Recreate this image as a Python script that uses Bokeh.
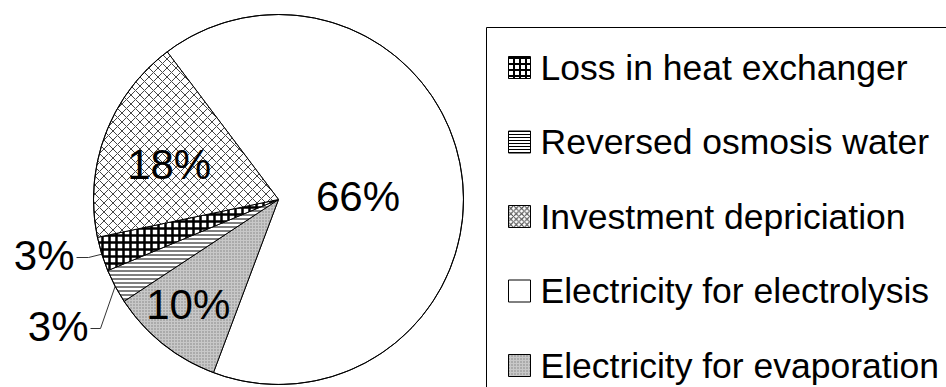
import math
from bokeh.plotting import figure
from bokeh.models import Range1d
from bokeh.core.properties import value
from bokeh.embed import file_html
from bokeh.resources import INLINE

# ---- data (pie order, clockwise) ----
categories = ["Electricity for electrolysis", "Electricity for evaporation",
              "Reversed osmosis water", "Loss in heat exchanger", "Investment depriciation"]
shares = [66, 10, 3, 3, 18]
labels = ["66%", "10%", "3%", "3%", "18%"]
legend_order = ["Loss in heat exchanger", "Reversed osmosis water", "Investment depriciation",
                "Electricity for electrolysis", "Electricity for evaporation"]

# ---- layout / style ----
W, H = 946, 387
CX, CY, R = 278, H - 199, 185
START_DEG = -37.0  # clockwise from 12 o'clock where first slice starts
FONT = "Liberation Sans"

styles = {
    "Electricity for electrolysis": dict(fill_color="white"),
    "Electricity for evaporation": dict(fill_color="#c8c8c8", hatch_pattern="dot", hatch_scale=3,
                                        hatch_color="#808080", hatch_weight=1),
    "Reversed osmosis water": dict(fill_color="white", hatch_pattern="horizontal_line", hatch_scale=4,
                                   hatch_color="black", hatch_weight=1),
    "Loss in heat exchanger": dict(fill_color="white", hatch_pattern="cross", hatch_scale=7,
                                   hatch_color="black", hatch_weight=2.5),
    "Investment depriciation": dict(fill_color="white", hatch_pattern="diagonal_cross", hatch_scale=9,
                                    hatch_color="#444444", hatch_weight=1),
}
# label placement: fraction of radius and angle offset from slice mid-angle (None -> outside)
label_frac = [0.43, 0.75, None, None, 0.62]
label_dang = [6, 2, 0, 0, -3]
leader_elbow = {2: (100, 328), 3: (88, 257)}
leader_end = {2: (90, 328), 3: (76, 257)}

p = figure(width=W, height=H, output_backend="svg", toolbar_location=None,
           x_range=Range1d(0, W), y_range=Range1d(0, H), min_border=0)
p.axis.visible = False
p.grid.visible = False
p.outline_line_color = None
p.background_fill_color = "white"

total = float(sum(shares))
theta = START_DEG
for i, (cat, s) in enumerate(zip(categories, shares)):
    span = 360.0 * s / total
    t1, t2 = theta, theta + span
    kw = dict(styles[cat])
    p.wedge(x=[CX], y=[CY], radius=R,
            start_angle=[math.radians(90 - t2)], end_angle=[math.radians(90 - t1)],
            line_color="black", line_width=1, **kw)
    mid = math.radians((t1 + t2) / 2)
    if label_frac[i] is not None:
        f = label_frac[i]
        a = mid + math.radians(label_dang[i])
        lx = CX + f * R * math.sin(a)
        ly = CY + f * R * math.cos(a)
        p.text(x=[lx], y=[ly], text=[labels[i]], text_align="center", text_baseline="middle",
               text_font=value(FONT), text_font_size="42px", text_color="black")
    else:
        ex = CX + R * math.sin(mid)
        ey = CY + R * math.cos(mid)
        bx, by = leader_elbow[i]
        lx, ly = leader_end[i]
        p.line(x=[ex, bx, lx], y=[ey, H - by, H - ly], line_color="#333333", line_width=1)
        p.text(x=[lx - 2], y=[H - ly + 2], text=[labels[i]], text_align="right", text_baseline="middle",
               text_font=value(FONT), text_font_size="42px", text_color="black")
    theta = t2

# outer circle outline
p.circle(x=[CX], y=[CY], radius=R, fill_color=None, line_color="black", line_width=1)

# legend box
p.quad(left=[486], right=[W + 20], top=[H - 27], bottom=[-20], fill_color=None,
       line_color="black", line_width=1)
row0, step = 67, 74.5
for k, cat in enumerate(legend_order):
    yy = H - (row0 + k * step)
    kw = dict(styles[cat])
    if cat == "Loss in heat exchanger":
        kw["hatch_scale"] = 6
        kw["hatch_weight"] = 2
    elif "hatch_scale" in kw:
        kw["hatch_scale"] = max(3, kw["hatch_scale"] * 0.6)
    p.rect(x=[519], y=[yy], width=22, height=22, line_color="black", line_width=1, **kw)
    p.text(x=[540], y=[yy], text=[cat], text_align="left", text_baseline="middle",
           text_font=value(FONT), text_font_size="35.5px", text_color="black")

open("out.html", "w").write(file_html(p, INLINE))
